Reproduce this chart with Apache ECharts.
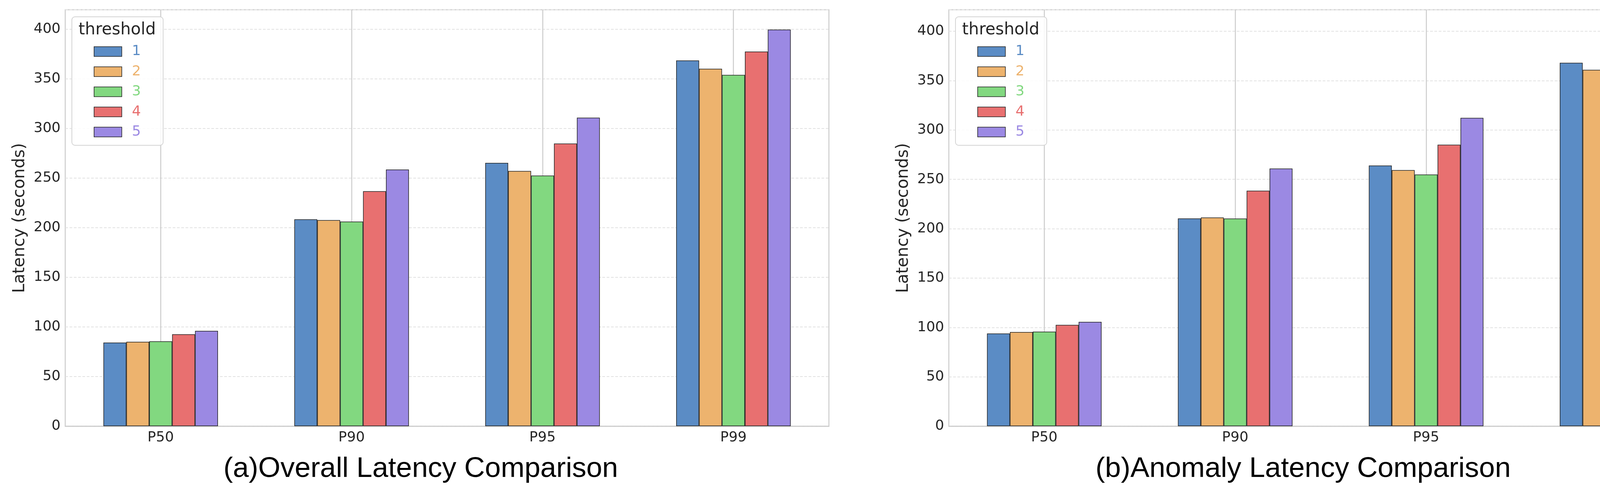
<!DOCTYPE html>
<html>
<head>
<meta charset="utf-8">
<style>html,body{margin:0;padding:0;background:#fff;}#c{width:4410px;height:1257px;}</style>
<script src="https://cdn.jsdelivr.net/npm/echarts@6/dist/echarts.min.js"></script>
</head>
<body>
<div id="c"></div>
<script>
const categories = ['P50', 'P90', 'P95', 'P99'];
const thresholds = ['1', '2', '3', '4', '5'];
const colors = ['#5B8CC5', '#EDB36E', '#82D880', '#E87070', '#9B89E3'];

// (a) Overall latency, seconds
const overall_t1 = [84.3, 208.5, 265.4, 368.6];
const overall_t2 = [85.0, 207.7, 257.2, 360.2];
const overall_t3 = [85.5, 206.2, 252.6, 354.0];
const overall_t4 = [92.6, 236.8, 284.8, 377.6];
const overall_t5 = [96.1, 258.7, 310.9, 399.7];

// (b) Anomaly latency, seconds
const anomaly_t1 = [93.9, 210.4, 264.0, 368.1];
const anomaly_t2 = [95.4, 211.4, 259.4, 361.0];
const anomaly_t3 = [95.8, 210.3, 254.9, 353.1];
const anomaly_t4 = [102.6, 238.5, 285.1, 376.8];
const anomaly_t5 = [105.6, 260.9, 312.3, 401.7];

const yTicks = [0, 50, 100, 150, 200, 250, 300, 350, 400];

const overall = [overall_t1, overall_t2, overall_t3, overall_t4, overall_t5];
const anomaly = [anomaly_t1, anomaly_t2, anomaly_t3, anomaly_t4, anomaly_t5];

const panels = [
  {grid: {left: 167, right: 4410 - 2122}, legendLeft: 184, title: '(a)Overall Latency Comparison', titleX: 1077, data: overall},
  {grid: {left: 2429, right: 4410 - 4384}, legendLeft: 2446, title: '(b)Anomaly Latency Comparison', titleX: 3336, data: anomaly}
];

const tickFont = {fontFamily: 'DejaVu Sans', fontSize: 36, color: '#262626'};

const option = {
  backgroundColor: '#ffffff',
  animation: false,
  grid: [], xAxis: [], yAxis: [], series: [], legend: [], graphic: []
};

panels.forEach((p, i) => {
  const allVals = [].concat(...p.data);
  const ymax = Math.max(...allVals) * 1.05;
  option.grid.push({
    left: p.grid.left, right: p.grid.right, top: 25, bottom: 1257 - 1091,
    show: true, borderColor: '#cccccc', borderWidth: 2.5, backgroundColor: '#ffffff', containLabel: false
  });
  option.xAxis.push({
    type: 'category', gridIndex: i, data: categories, boundaryGap: true,
    axisLine: {show: true, lineStyle: {color: '#cccccc', width: 2.5}},
    axisTick: {show: false},
    axisLabel: Object.assign({margin: 12}, tickFont),
    splitLine: {show: true, alignWithLabel: true, lineStyle: {color: '#cccccc', width: 2.5}}
  });
  option.yAxis.push({
    type: 'value', gridIndex: i, min: 0, max: ymax, interval: 50,
    name: 'Latency (seconds)', nameLocation: 'middle', nameRotate: 90, nameGap: 95,
    nameTextStyle: {fontFamily: 'DejaVu Sans', fontSize: 42, color: '#262626'},
    axisLine: {show: false}, axisTick: {show: false},
    axisLabel: Object.assign({margin: 12, formatter: v => (yTicks.indexOf(v) >= 0 ? String(v) : '')}, tickFont),
    splitLine: {show: true, lineStyle: {color: '#e2e2e2', width: 2, type: [7, 4]}}
  });
  thresholds.forEach((t, k) => {
    option.series.push({
      type: 'bar', name: t, xAxisIndex: i, yAxisIndex: i,
      data: p.data[k],
      barCategoryGap: '40%', barGap: '0%',
      itemStyle: {color: colors[k], borderColor: '#222222', borderWidth: 1.5},
      emphasis: {disabled: true}
    });
  });
  option.legend.push({
    orient: 'vertical', left: p.legendLeft, top: 43,
    padding: [71, 57, 16, 56],
    itemWidth: 71, itemHeight: 25, itemGap: 15.5,
    backgroundColor: 'rgba(255,255,255,0.85)', borderColor: '#d4d4d4', borderWidth: 2, borderRadius: 8,
    selectedMode: false, icon: 'rect',
    itemStyle: {borderColor: '#222222', borderWidth: 1.5},
    textStyle: {fontFamily: 'DejaVu Sans', fontSize: 36, lineHeight: 36, padding: [0, 0, 0, 21]},
    data: thresholds.map((t, k) => ({name: t, textStyle: {color: colors[k]}}))
  });
  option.graphic.push({
    type: 'text', x: p.legendLeft + 116, y: 77, z: 100,
    style: {text: 'threshold', font: '42px "DejaVu Sans"', fill: '#262626', textAlign: 'center', textVerticalAlign: 'middle'}
  });
  option.graphic.push({
    type: 'text', x: p.titleX, y: 1201,
    style: {text: p.title, font: '73px "Liberation Sans"', fill: '#000000', textAlign: 'center', textVerticalAlign: 'middle'}
  });
});

const chart = echarts.init(document.getElementById('c'), null, {renderer: 'canvas'});
chart.setOption(option);
</script>
</body>
</html>
